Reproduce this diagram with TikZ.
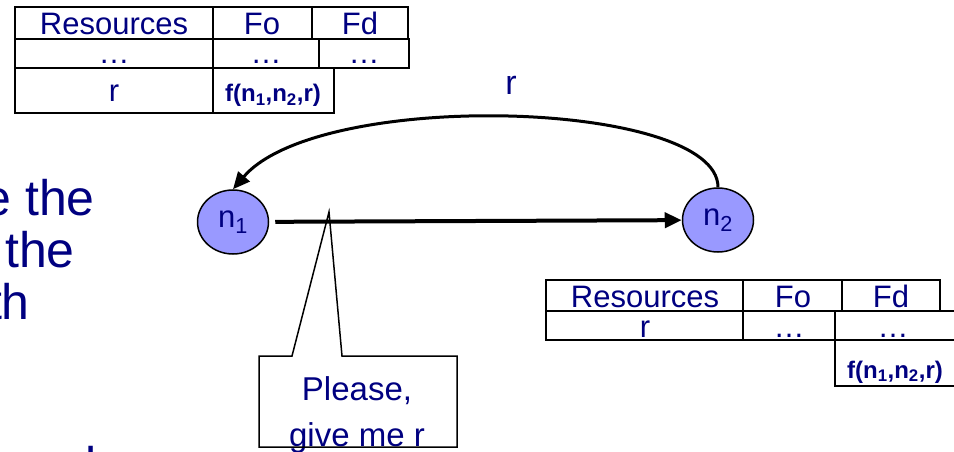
\documentclass[tikz,border=0pt]{standalone}
\usepackage{fontspec}
\setmainfont{Liberation Sans}
\usetikzlibrary{arrows.meta,shapes.geometric}
\definecolor{ink}{HTML}{000080}
\definecolor{peerfill}{HTML}{9999FF}
\newcommand{\fsz}[1]{\fontsize{#1}{#1}\selectfont}
% table cell from corner (x1,y1) to corner (x2,y2)
\newcommand{\tcell}[6]{\node[#1, minimum width={#4-#2}, minimum height={#5-#3}] (#6) at ({(#2+#4)/2},{(#3+#5)/2}) {};}

\begin{document}
\begin{tikzpicture}[x=1pt,y=-1pt,
  thincell/.style={draw, line width=1.6pt, inner sep=0pt, outer sep=0pt, rectangle},
  headcell/.style={draw, line width=2.8pt, inner sep=0pt, outer sep=0pt, rectangle},
  txt/.style={text=ink, inner sep=0pt, anchor=base, font=\fsz{31}},
  ftxt/.style={text=ink, inner sep=0pt, anchor=base, font=\bfseries\fsz{24}},
  bigtxt/.style={text=ink, inner sep=0pt, anchor=base east, font=\fsz{50}},
  peer/.style={ellipse, draw, line width=1.5pt, fill=peerfill, minimum width=71pt, minimum height=64pt, inner sep=0pt, text=ink, font=\fsz{31}},
  request/.style={line width=4pt, -{Triangle[length=17pt,width=15pt]}},
  reply/.style={line width=3pt, -{Triangle[length=17pt,width=15pt]}},
  bubble/.style={line width=1.5pt, line join=miter}]
\useasboundingbox (0,0) rectangle (954,452);

% ---- routing table of n1 ----
\tcell{thincell}{15}{39}{213}{68}{ta21}
\tcell{thincell}{213}{39}{319}{68}{ta22}
\tcell{thincell}{319}{39}{409}{68}{ta23}
\tcell{thincell}{15}{68}{213}{113}{ta31}
\tcell{thincell}{213}{68}{334}{113}{ta32}
\tcell{headcell}{15}{7}{213}{39}{ta11}
\tcell{headcell}{213}{7}{312}{39}{ta12}
\tcell{headcell}{312}{7}{408}{39}{ta13}
\node[txt] (tah1) at (114,35) {Resources};
\node[txt] (tah2) at (262,35) {Fo};
\node[txt] (tah3) at (360,35) {Fd};
\node[txt] (tad1) at (114,64) {…};
\node[txt] (tad2) at (266,64) {…};
\node[txt] (tad3) at (364,64) {…};
\node[txt] (tar) at (114,102) {r};
\node[ftxt] (taf) at (273,102) {f(n\textsubscript{1},n\textsubscript{2},r)};

% ---- routing table of n2 ----
\tcell{thincell}{546}{311}{743}{340}{tb21}
\tcell{thincell}{743}{311}{835}{340}{tb22}
\tcell{thincell}{835}{311}{965}{340}{tb23}
\tcell{thincell}{835}{340}{965}{386}{tb33}
\tcell{headcell}{546}{280}{743}{311}{tb11}
\tcell{headcell}{743}{280}{842}{311}{tb12}
\tcell{headcell}{842}{280}{940}{311}{tb13}
\node[txt] (tbh1) at (645,307) {Resources};
\node[txt] (tbh2) at (793,307) {Fo};
\node[txt] (tbh3) at (891,307) {Fd};
\node[txt] (tbr) at (645,337) {r};
\node[txt] (tbd2) at (789,337) {…};
\node[txt] (tbd3) at (893,337) {…};
\node[ftxt] (tbf) at (895,378) {f(n\textsubscript{1},n\textsubscript{2},r)};

% ---- slide text running in from the left ----
\node[bigtxt] (s1) at (95,215) {e the};
\node[bigtxt] (s2) at (75,267) {n the};
\node[bigtxt] (s3) at (30,319) {with};
\node[bigtxt, anchor=base west] (s4) at (85,482) {l};

% ---- peers ----
\node[peer] (n1) at (233,222) {n\textsubscript{1}};
\node[peer] (n2) at (718,220) {n\textsubscript{2}};

\draw[request, shorten <=6pt] (n1) -- (n2);
\draw[reply] (n2.north) .. controls (718,100) and (320,88) .. (n1.north);
\node[txt, font=\fsz{34}] (rlab) at (511,95) {r};

% ---- speech bubble on the request ----
\coordinate (tip) at (329,212);
\node[txt, font=\fsz{33}] (q1) at (357,400) {Please,};
\node[txt, font=\fsz{33}] (q2) at (357,446) {give me r};
\draw[bubble] (259,356) -- (292,356) -- (tip) -- (342,356) -- (457,356) -- (457,447) -- (259,447) -- cycle;
\end{tikzpicture}
\end{document}
